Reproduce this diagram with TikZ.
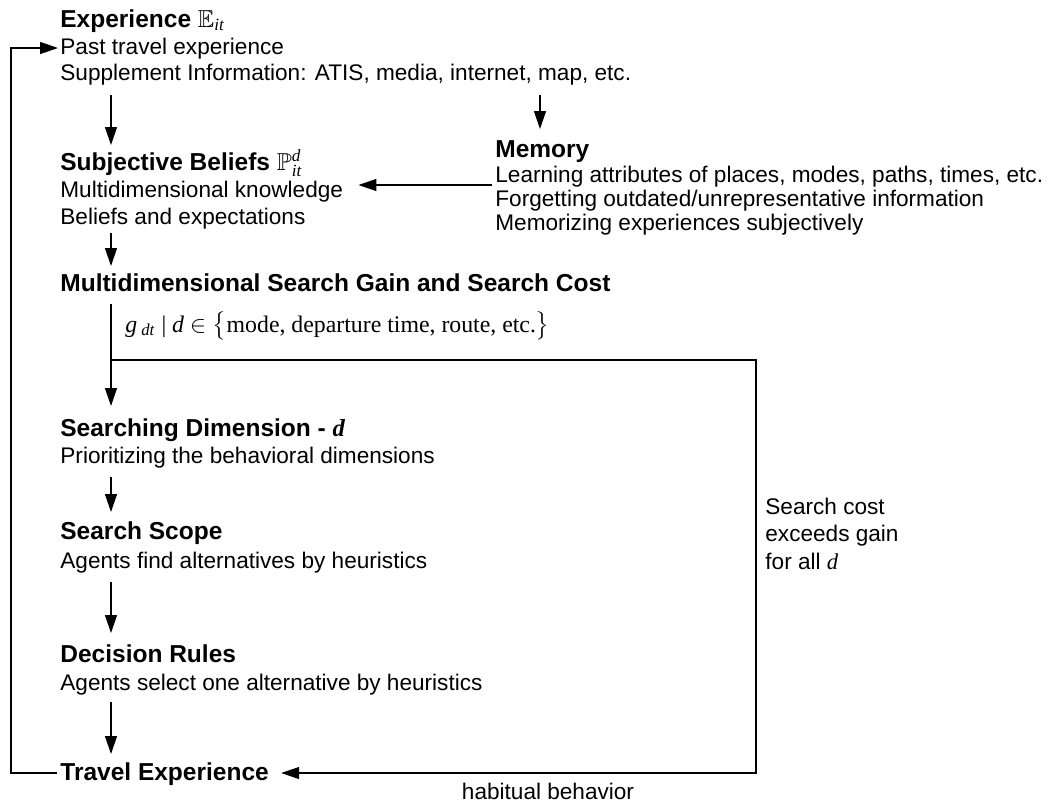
\documentclass[tikz,border=0pt]{standalone}
\usepackage{amsmath,amssymb}
\usepackage{fontspec}
\setmainfont{Liberation Sans}
\newfontfamily\tms{Liberation Serif}
\usetikzlibrary{calc,arrows.meta}

\tikzset{
  line/.style={anchor=base west, inner sep=0pt, font=\fontsize{11.3}{13}\selectfont},
  head/.style={line, font=\fontsize{12.25}{14}\selectfont\bfseries},
  flow/.style={draw=black, line width=0.65pt, -{Triangle[length=9pt,width=6pt]}}
}
\newcommand{\idx}[1]{\text{\textnormal{\tms\itshape #1}}}

\begin{document}
\begin{tikzpicture}[x=0.5pt,y=-0.5pt]
\useasboundingbox (0,0) rectangle (1047,810);

\coordinate (col) at (111,0);
\coordinate (memcol) at (540,0);
\coordinate (loopx) at (11,0);
\coordinate (boxx) at (756,0);

% experience
\node[head] (exp) at (60,27) {Experience $\mathbb{E}_{\idx{it}}$};
\node[line] (past) at ($(exp.base west)+(0,27)$) {Past travel experience};
\node[line] (supp) at ($(past.base west)+(0,26)$) {Supplement Information: ATIS, media, internet, map, etc.};

% beliefs
\node[head] (beliefs) at ($(supp.base west)+(0,90)$) {Subjective Beliefs $\mathbb{P}^{\idx{d}}_{\idx{it}}$};
\node[line] (know) at ($(beliefs.base west)+(0,27)$) {Multidimensional knowledge};
\node[line] (expect) at ($(know.base west)+(0,27)$) {Beliefs and expectations};

% memory
\node[head] (memory) at (495,157) {Memory};
\node[line] (learn) at ($(memory.base west)+(0,25)$) {Learning attributes of places, modes, paths, times, etc.};
\node[line] (forget) at ($(learn.base west)+(0,24)$) {Forgetting outdated/unrepresentative information};
\node[line] (memo) at ($(forget.base west)+(0,24)$) {Memorizing experiences subjectively};

% gain and cost
\node[head] (gain) at ($(expect.base west)+(0,67)$) {Multidimensional Search Gain and Search Cost};
\node[line, font=\fontsize{11.9}{13}\tms] (dims) at ($(gain.base west)+(65,41)$)
  {\textit{g}\,\textsubscript{\textit{dt}} | \textit{d} $\in\bigl\{$mode, departure time, route, etc.$\bigr\}$};

% search steps
\node[head] (searching) at ($(gain.base west)+(0,145)$) {Searching Dimension - {\tms\itshape d}};
\node[line] (prior) at ($(searching.base west)+(0,27)$) {Prioritizing the behavioral dimensions};
\node[head] (scope) at ($(prior.base west)+(0,76)$) {Search Scope};
\node[line] (find) at ($(scope.base west)+(0,29)$) {Agents find alternatives by heuristics};
\node[head] (decision) at ($(find.base west)+(0,94)$) {Decision Rules};
\node[line] (select) at ($(decision.base west)+(0,28)$) {Agents select one alternative by heuristics};
\node[head] (travel) at ($(select.base west)+(0,90)$) {Travel Experience};

% side notes
\node[line, anchor=north west, align=left, font=\fontsize{11.3}{13.6}\selectfont] (stop) at (765,498)
  {Search cost\\exceeds gain\\for all {\tms\itshape d}};
\node[line, anchor=base] (habit) at (548,799) {habitual behavior};

% connectors
\draw[flow] ($(supp.base -| col)+(0,15)$) -- ($(beliefs.base -| col)+(0,-25)$);
\draw[flow] ($(supp.base -| memcol)+(0,15)$) -- ($(memory.base -| memcol)+(0,-28)$);
\coordinate (memin) at ($(learn.base west)+(-3,3)$);
\draw[flow] (memin) -- ($(memin -| know.east)+(15,0)$);
\draw[flow] ($(expect.base -| col)+(0,9)$) -- ($(gain.base -| col)+(0,-25)$);
\draw[flow] ($(gain.base -| col)+(0,13)$) -- ($(searching.base -| col)+(0,-30)$);
\draw[flow] ($(prior.base -| col)+(0,14)$) -- ($(scope.base -| col)+(0,-27)$);
\draw[flow] ($(find.base -| col)+(0,14)$) -- ($(decision.base -| col)+(0,-29)$);
\draw[flow] ($(select.base -| col)+(0,12)$) -- ($(travel.base -| col)+(0,-26)$);

\coordinate (split) at ($(gain.base -| col)+(0,69)$);
\coordinate (trend) at ($(travel.base east)+(12,-7)$);
\draw[flow] (split) -- (split -| boxx) -- (boxx |- trend) -- (trend);

\coordinate (trin) at ($(travel.base west)+(-3,-7)$);
\coordinate (pastin) at ($(past.base west)+(-2,-6)$);
\draw[flow] (trin) -- (trin -| loopx) -- (loopx |- pastin) -- (pastin);

\end{tikzpicture}
\end{document}
